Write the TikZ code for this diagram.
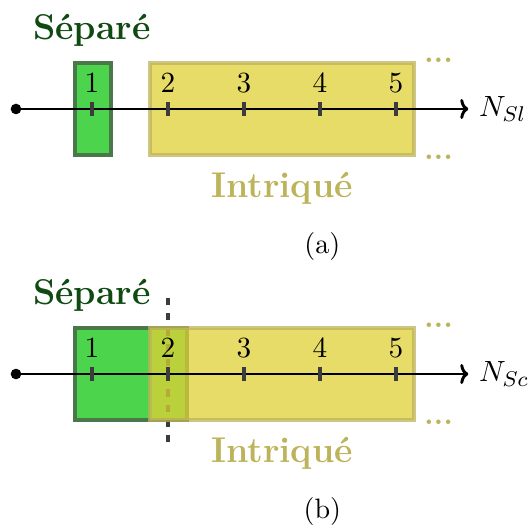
\documentclass[tikz,border=0pt]{standalone}
\usepackage{tikz}
\usetikzlibrary{positioning, arrows.meta, calc}
\usepackage{amsmath, amssymb}
\usepackage{xcolor}
\definecolor{sepgreen}{HTML}{4CD44C}
\definecolor{sepborder}{HTML}{4A784A}
\definecolor{septext}{HTML}{0F4A12}
\definecolor{intyellow}{HTML}{E0D036}
\definecolor{intborder}{HTML}{BDB35A}
\definecolor{tickgray}{HTML}{3C3C3C}

\tikzset{
  sepbox/.style={draw=sepborder, fill=sepgreen, line width=1.5pt},
  intbox/.style={draw=intborder, fill=intyellow, line width=1.5pt, opacity=0.75},
  axis/.style={line width=1.1pt, -{To[length=3pt,width=7.5pt]}},
  origin/.style={circle, fill=black, inner sep=0pt, minimum size=0.14cm},
  tick/.style={draw=tickgray, line width=1.3pt},
  num/.style={font=\fontsize{10.5}{12}\selectfont, inner sep=0pt, anchor=base},
  sepname/.style={font=\fontsize{13.4}{16}\selectfont\bfseries, text=septext, inner sep=0pt, anchor=base},
  intname/.style={font=\fontsize{13.4}{16}\selectfont\bfseries, text=intborder, inner sep=0pt, anchor=base},
  moredots/.style={font=\fontsize{11.6}{14}\selectfont\bfseries, text=intborder, inner sep=0pt},
  cutline/.style={draw=tickgray, line width=1.5pt, dash pattern=on 2.7pt off 3pt},
  subcap/.style={font=\fontsize{10.5}{12}\selectfont},
  axlabel/.style={font=\fontsize{11.2}{13}\selectfont, inner sep=2.5pt}
}

\begin{document}
\begin{tikzpicture}
  \useasboundingbox (-0.2105,1.434) rectangle (6.776,-5.5);

  % (a) : premier site seul
  \begin{scope}
    \draw[sepbox] (0.775,-0.61) rectangle (1.25,0.61);
    \draw[intbox] (1.76,-0.61) rectangle (5.24,0.61);
    \node[origin] (oA) at (0,0) {};
    \coordinate (eA) at (5.95,0);
    \draw[axis] (oA.center) -- (eA);
    \foreach \k in {1,...,5} {
      \coordinate (tA\k) at (\k,0);
      \draw[tick] ($(tA\k)+(0,-0.09)$) -- ($(tA\k)+(0,0.09)$);
      \node[num] (nA\k) at (\k,0.22) {$\k$};
    }
    \node[axlabel, right=0.05cm of eA] (labA) {$N_{Sl}$};
    \node[moredots] (dA1) at (5.56,0.635) {...};
    \node[moredots] (dA2) at (5.56,-0.64) {...};
    \node[sepname] (sA) at (1,0.92) {Séparé};
    \node[intname] (iA) at (3.5,-1.17) {Intriqué};
    \node[subcap] (capA) at (4.03,-1.81) {(a)};
  \end{scope}

  % (b) : coupure au deuxieme site
  \begin{scope}[yshift=-3.487cm]
    \draw[sepbox] (0.775,-0.61) rectangle (2.25,0.61);
    \coordinate (cutT) at (2,1.0);
    \coordinate (cutB) at (2,-1.0);
    \draw[cutline] (cutT) -- (cutB);
    \draw[intbox] (1.76,-0.61) rectangle (5.24,0.61);
    \node[origin] (oB) at (0,0) {};
    \coordinate (eB) at (5.95,0);
    \draw[axis] (oB.center) -- (eB);
    \foreach \k in {1,...,5} {
      \coordinate (tB\k) at (\k,0);
      \draw[tick] ($(tB\k)+(0,-0.09)$) -- ($(tB\k)+(0,0.09)$);
      \node[num] (nB\k) at (\k,0.22) {$\k$};
    }
    \node[axlabel, right=0.05cm of eB] (labB) {$N_{Sc}$};
    \node[moredots] (dB1) at (5.56,0.635) {...};
    \node[moredots] (dB2) at (5.56,-0.64) {...};
    \node[sepname] (sB) at (1,0.92) {Séparé};
    \node[intname] (iB) at (3.5,-1.17) {Intriqué};
    \node[subcap] (capB) at (4.03,-1.81) {(b)};
  \end{scope}
\end{tikzpicture}
\end{document}
